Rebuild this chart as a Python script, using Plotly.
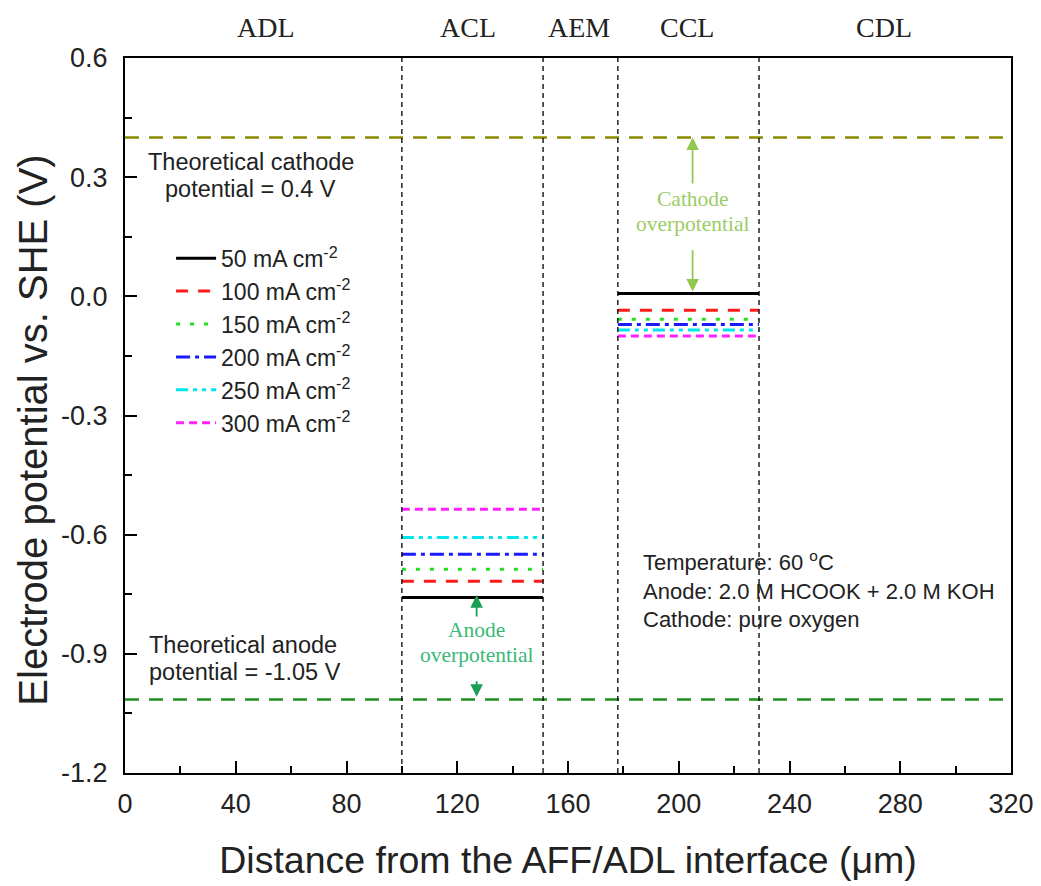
import plotly.graph_objects as go

# ---- data ----
currents = ["50", "100", "150", "200", "250", "300"]
anode_potential = [-0.758, -0.717, -0.687, -0.649, -0.607, -0.536]
cathode_potential = [0.007, -0.035, -0.058, -0.071, -0.085, -0.100]
acl_range = [100, 151]
ccl_range = [178, 229]
boundaries = [100, 151, 178, 229]
theo_cathode = 0.4
theo_anode = -1.015
layer_names = ["ADL", "ACL", "AEM", "CCL", "CDL"]
layer_centers = [51, 124, 164, 203, 274]

colors = ["#000000", "#ff1a1a", "#22dd22", "#1a1aff", "#00e5ee", "#ff22ff"]
dashes = ["solid", "12px,10px", "4px,10px", "14px,5px,4px,5px", "12px,5px,4px,5px,4px,5px", "8px,5px"]

fig = go.Figure()

# theoretical lines
fig.add_trace(go.Scatter(x=[0, 320], y=[theo_cathode] * 2, mode="lines",
                         line=dict(color="#8a8a00", width=2.5, dash="14px,10px"),
                         showlegend=False, hoverinfo="skip"))
fig.add_trace(go.Scatter(x=[0, 320], y=[theo_anode] * 2, mode="lines",
                         line=dict(color="#1f8f1f", width=2.5, dash="14px,10px"),
                         showlegend=False, hoverinfo="skip"))

for i, c in enumerate(currents):
    fig.add_trace(go.Scatter(
        x=acl_range, y=[anode_potential[i]] * 2, mode="lines",
        line=dict(color=colors[i], width=3, dash=dashes[i]),
        name=f"{c} mA cm<sup>-2</sup>", legendgroup=c))
    fig.add_trace(go.Scatter(
        x=ccl_range, y=[cathode_potential[i]] * 2, mode="lines",
        line=dict(color=colors[i], width=3, dash=dashes[i]),
        showlegend=False, legendgroup=c))

for b in boundaries:
    fig.add_shape(type="line", x0=b, x1=b, y0=0, y1=1, xref="x", yref="paper",
                  line=dict(color="black", width=1.3, dash="5px,4px"))

serif = "Liberation Serif"
sans = "Liberation Sans"

ann = []
for name, xc in zip(layer_names, layer_centers):
    ann.append(dict(x=xc, y=1.042, xref="x", yref="paper", text=name, showarrow=False,
                    font=dict(family=serif, size=28, color="#222"), yanchor="middle"))

cath_col = "#92c850"
an_col = "#1aa055"


def arrow(x, y_head, y_tail, col):
    return dict(x=x, y=y_head, ax=x, ay=y_tail, xref="x", yref="y", axref="x", ayref="y",
                showarrow=True, arrowhead=2, arrowsize=1.4, arrowwidth=1.8,
                arrowcolor=col, text="")


def label(x, y, text, family, size, color, xanchor="center"):
    return dict(x=x, y=y, xref="x", yref="y", showarrow=False, text=text, xanchor=xanchor,
                font=dict(family=family, size=size, color=color))


ann += [
    arrow(205, theo_cathode, 0.28, cath_col),
    arrow(205, 0.012, 0.12, cath_col),
    label(205, 0.244, "Cathode", serif, 21.5, "#9ccc66"),
    label(205, 0.181, "overpotential", serif, 21.5, "#9ccc66"),
    arrow(127, -0.752, -0.81, an_col),
    arrow(127, -1.008, -0.965, an_col),
    label(127, -0.841, "Anode", serif, 21.5, "#3cb878"),
    label(127, -0.904, "overpotential", serif, 21.5, "#3cb878"),
    label(45.5, 0.338, "Theoretical cathode", sans, 23.5, "#222"),
    label(45.5, 0.270, "potential = 0.4 V", sans, 23.5, "#222"),
    label(8, -0.878, "Theoretical anode", sans, 23.5, "#222", "left"),
    label(8, -0.946, "potential = -1.05 V", sans, 23.5, "#222", "left"),
    dict(x=186.5, y=-0.737, xref="x", yref="y", showarrow=False, align="left", xanchor="left",
         text="Temperature: 60 <sup>o</sup>C<br>Anode: 2.0 M HCOOK + 2.0 M KOH<br>Cathode: pure oxygen",
         font=dict(family=sans, size=22, color="#222")),
    # y-axis title (placed slightly below centre as in the reference)
    dict(x=-0.104, y=0.48, xref="paper", yref="paper", showarrow=False, textangle=-90,
         xanchor="center", yanchor="middle", text="Electrode potential vs. SHE (V)",
         font=dict(family=sans, size=40, color="#222")),
]

axis_common = dict(showline=True, linecolor="black", linewidth=2, mirror=True,
                   ticks="inside", ticklen=12, tickwidth=1.5, tickcolor="black",
                   showgrid=False, zeroline=False, automargin=False,
                   tickfont=dict(family=sans, size=27, color="#222"))

fig.update_layout(
    width=1041, height=886,
    margin=dict(l=125, r=30, t=58, b=113),
    plot_bgcolor="white", paper_bgcolor="white",
    xaxis=dict(range=[0, 320], tickvals=list(range(0, 321, 40)),
               minor=dict(tickvals=list(range(20, 320, 40)), ticks="inside", ticklen=7,
                          tickcolor="black", tickwidth=1.5),
               ticklabelstandoff=6,
               title=dict(text="Distance from the AFF/ADL interface (μm)",
                          font=dict(family=sans, size=37.5, color="#222"), standoff=28),
               **axis_common),
    yaxis=dict(range=[-1.2, 0.6], tickvals=[-1.2, -0.9, -0.6, -0.3, 0.0, 0.3, 0.6],
               ticktext=["-1.2", "-0.9", "-0.6", "-0.3", "0.0", "0.3", "0.6"],
               minor=dict(tickvals=[-1.05, -0.75, -0.45, -0.15, 0.15, 0.45], ticks="inside",
                          ticklen=7, tickcolor="black", tickwidth=1.5),
               ticklabelstandoff=10,
               **axis_common),
    legend=dict(x=0.052, y=0.75, xanchor="left", yanchor="top", bgcolor="rgba(0,0,0,0)",
                font=dict(family=sans, size=23, color="#222"), tracegroupgap=0,
                itemwidth=40),
    annotations=ann,
    showlegend=True,
)

fig.write_html("out.html")
